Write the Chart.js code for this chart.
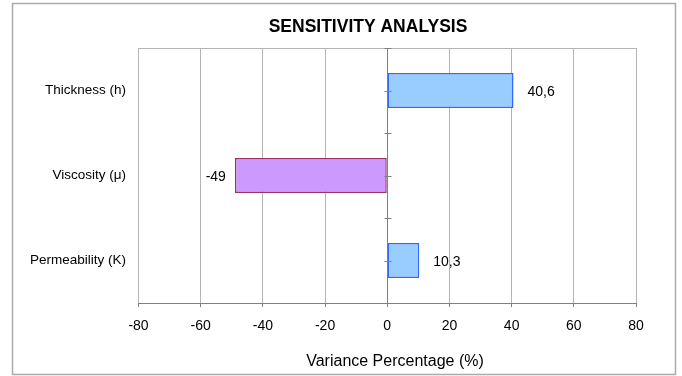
<!DOCTYPE html>
<html>
<head>
<meta charset="utf-8">
<title>Sensitivity Analysis</title>
<script src="https://cdn.jsdelivr.net/npm/chart.js@4/dist/chart.umd.min.js"></script>
<style>
  html, body { margin: 0; padding: 0; background: #ffffff; }
  canvas { display: block; }
</style>
</head>
<body>
<canvas id="chart" width="682" height="376"></canvas>
<script>
// Chart data
const categories = ['Thickness (h)', 'Viscosity (\u03bc)', 'Permeability (K)'];
const variance = [40.6, -49, 10.3];
const xTicks = [-80, -60, -40, -20, 0, 20, 40, 60, 80];
const chartTitle = 'SENSITIVITY ANALYSIS';
const xAxisTitle = 'Variance Percentage (%)';

// Styling
const barFills = ['#99CCFF', '#CC99FF', '#99CCFF'];
const barEdges = ['#3366FF', '#993366', '#3366FF'];
const FONT = '"Liberation Sans", Arial, Helvetica, sans-serif';
const GRID = '#b4b4b4';
const AXIS = '#808080';

const decorations = {
  id: 'decorations',
  beforeDatasetsDraw(chart) {
    const { ctx, chartArea: a } = chart;
    ctx.save();
    ctx.strokeStyle = GRID;
    ctx.lineWidth = 1;
    ctx.beginPath();
    ctx.moveTo(a.left, Math.round(a.top) + 0.5);
    ctx.lineTo(a.right, Math.round(a.top) + 0.5);
    ctx.stroke();
    ctx.restore();
  },
  afterDatasetsDraw(chart) {
    const { ctx, chartArea: a, scales: { x } } = chart;
    ctx.save();
    // short tick marks across the zero line (category centres and boundaries)
    const x0 = Math.round(x.getPixelForValue(0)) + 0.5;
    const steps = categories.length * 2;
    ctx.strokeStyle = AXIS;
    ctx.lineWidth = 1;
    for (let k = 0; k <= steps; k++) {
      const py = Math.round(a.top + k * (a.bottom - a.top) / steps) + 0.5;
      ctx.beginPath();
      ctx.moveTo(x0 - 3, py);
      ctx.lineTo(x0 + 4, py);
      ctx.stroke();
    }
    // value labels at the bar ends
    ctx.font = '14px ' + FONT;
    ctx.fillStyle = '#000000';
    ctx.textBaseline = 'middle';
    chart.getDatasetMeta(0).data.forEach((bar, i) => {
      const v = variance[i];
      const txt = String(v).replace('.', ',');
      if (v >= 0) {
        ctx.textAlign = 'left';
        ctx.fillText(txt, bar.x + 14, bar.y + 1.5);
      } else {
        ctx.textAlign = 'right';
        ctx.fillText(txt, bar.x - 9, bar.y + 1.5);
      }
    });
    ctx.restore();
  },
  afterDraw(chart) {
    const { ctx } = chart;
    ctx.save();
    ctx.fillStyle = '#000000';
    ctx.textAlign = 'center';
    ctx.textBaseline = 'alphabetic';
    ctx.font = 'bold 17.5px ' + FONT;
    ctx.fillText(chartTitle, 368, 31.5);
    ctx.font = '16px ' + FONT;
    ctx.fillText(xAxisTitle, 395, 366);
    // outer frame
    ctx.strokeStyle = '#aaaaaa';
    ctx.lineWidth = 1.5;
    ctx.strokeRect(12.5, 3.5, 663, 371);
    ctx.restore();
  }
};

new Chart(document.getElementById('chart'), {
  type: 'bar',
  data: {
    labels: categories,
    datasets: [{
      data: variance,
      backgroundColor: barFills,
      borderColor: barEdges,
      borderWidth: 1.5,
      borderSkipped: false,
      barPercentage: 0.41,
      categoryPercentage: 1
    }]
  },
  options: {
    indexAxis: 'y',
    responsive: false,
    animation: false,
    devicePixelRatio: 1,
    layout: { padding: { top: 48, right: 46, left: 0, bottom: 0 } },
    plugins: {
      legend: { display: false },
      tooltip: { enabled: false },
      title: { display: false }
    },
    scales: {
      x: {
        type: 'linear',
        min: xTicks[0],
        max: xTicks[xTicks.length - 1],
        afterBuildTicks: s => { s.ticks = xTicks.map(v => ({ value: v })); },
        grid: {
          color: c => (c.tick && c.tick.value === 0) ? AXIS : GRID,
          tickColor: AXIS,
          tickLength: 4,
          drawTicks: true
        },
        border: { display: true, color: AXIS },
        ticks: { font: { family: FONT, size: 14 }, color: '#000000', padding: 11 },
        afterFit: s => { s.height = 73; }
      },
      y: {
        type: 'category',
        offset: true,
        grid: { display: false, drawTicks: false },
        border: { display: false },
        ticks: { font: { family: FONT, size: 13.5 }, color: '#000000', padding: 12.5 },
        afterFit: s => { s.width = 138.5; }
      }
    }
  },
  plugins: [decorations]
});
</script>
</body>
</html>
